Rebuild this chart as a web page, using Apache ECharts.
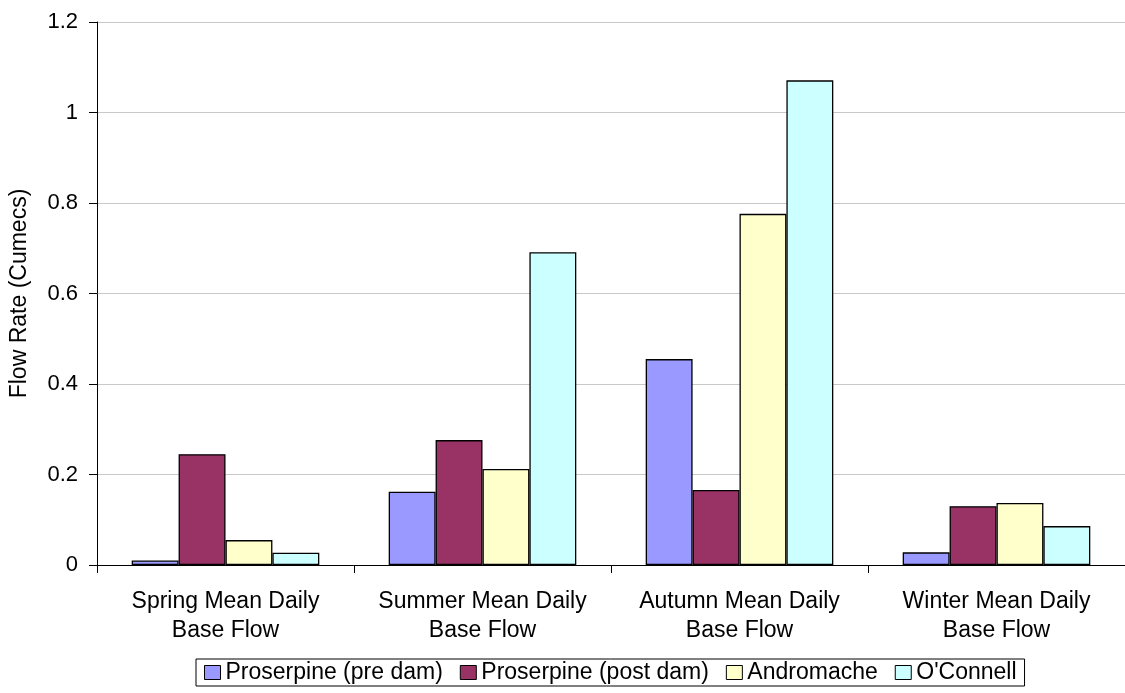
<!DOCTYPE html>
<html>
<head>
<meta charset="utf-8">
<script src="https://cdn.jsdelivr.net/npm/echarts@6/dist/echarts.min.js"></script>
<style>html,body{margin:0;padding:0;background:#fff}#c{width:1125px;height:693px}</style>
</head>
<body>
<div id="c"></div>
<script>
const categories = ["Spring Mean Daily\nBase Flow", "Summer Mean Daily\nBase Flow", "Autumn Mean Daily\nBase Flow", "Winter Mean Daily\nBase Flow"];
const seriesNames = ["Proserpine (pre dam)", "Proserpine (post dam)", "Andromache", "O'Connell"];
const proserpinePre = [0.010, 0.162, 0.455, 0.028];
const proserpinePost = [0.245, 0.276, 0.166, 0.130];
const andromache = [0.055, 0.212, 0.776, 0.137];
const oconnell = [0.027, 0.691, 1.071, 0.086];
const colors = ["#9999FF", "#993366", "#FFFFCC", "#CCFFFF"];
const yTicks = [0, 0.2, 0.4, 0.6, 0.8, 1, 1.2];

const font = "'Liberation Sans', Arial, sans-serif";
const values = [proserpinePre, proserpinePost, andromache, oconnell];
const chart = echarts.init(document.getElementById('c'), null, {renderer: 'canvas'});
chart.setOption({
  animation: false,
  textStyle: {fontFamily: font},
  grid: {left: 96, right: -5, top: 22, bottom: 128, containLabel: false},
  legend: {
    left: 196, top: 659,
    data: seriesNames,
    icon: 'rect', itemWidth: 16, itemHeight: 14, itemGap: 17,
    borderColor: '#000', borderWidth: 1, padding: [2, 8, 2, 8],
    textStyle: {fontFamily: font, fontSize: 23, color: '#000'},
    itemStyle: {borderColor: '#000', borderWidth: 1}
  },
  xAxis: {
    type: 'category', data: categories,
    axisLine: {lineStyle: {color: '#000', width: 1}},
    axisTick: {show: true, length: 8, lineStyle: {color: '#000'}},
    axisLabel: {fontFamily: font, fontSize: 23, color: '#000', lineHeight: 29, margin: 22, interval: 0}
  },
  yAxis: {
    type: 'value', min: 0, max: 1.2, interval: 0.2,
    name: 'Flow Rate (Cumecs)', nameLocation: 'middle', nameGap: 66,
    nameTextStyle: {fontFamily: font, fontSize: 23, color: '#000'},
    axisLine: {show: true, lineStyle: {color: '#000', width: 1}},
    axisTick: {show: true, length: 8, lineStyle: {color: '#000'}},
    splitLine: {lineStyle: {color: '#c8c8c8', width: 1}},
    axisLabel: {fontFamily: font, fontSize: 22, color: '#000', margin: 19,
      formatter: v => { const t = yTicks.find(x => Math.abs(x - v) < 1e-9); return String(t !== undefined ? t : v); }}
  },
  series: seriesNames.map((n, i) => ({
    name: n, type: 'bar', data: values[i],
    barGap: '0%', barCategoryGap: '27%',
    itemStyle: {color: colors[i], borderColor: '#000', borderWidth: 1.3}
  }))
});
</script>
</body>
</html>
